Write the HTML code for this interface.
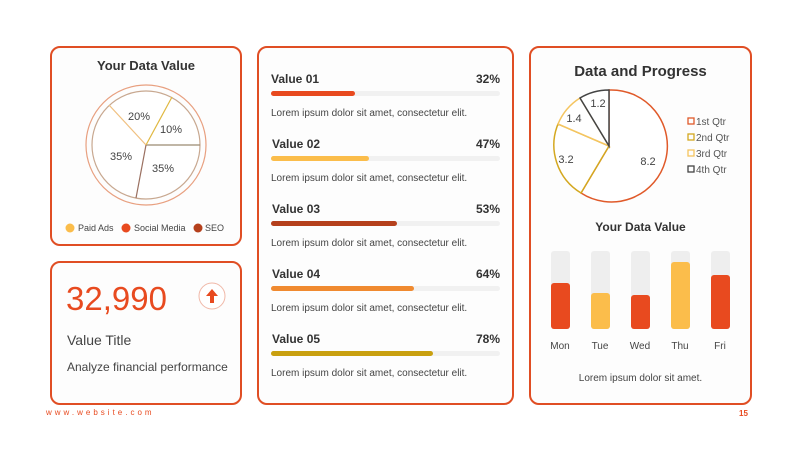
<!DOCTYPE html>
<html><head><style>
body{margin:0;width:800px;height:450px;background:#fff;font-family:"Liberation Sans",sans-serif;position:relative;overflow:hidden}
.c{position:absolute;border:2px solid #e04e24;border-radius:10px;box-sizing:border-box;background:#fdfdfd}
.t{position:absolute;white-space:nowrap;color:#333}
.track{position:absolute;height:5px;background:#f1f1f1;border-radius:3px}
.fill{position:absolute;height:5px;border-radius:3px}
.bt{position:absolute;width:19px;background:#eeeeee;border-radius:3px;top:251px;height:78px}
.bf{position:absolute;width:19px;border-radius:3px;bottom:121px}
</style></head><body>
<div class="c" style="left:50px;top:46px;width:192px;height:200px"></div>
<div class="c" style="left:50px;top:261px;width:192px;height:144px"></div>
<div class="c" style="left:257px;top:46px;width:257px;height:359px"></div>
<div class="c" style="left:529px;top:46px;width:223px;height:359px"></div>

<div class="t" style="left:50px;width:192px;text-align:center;top:58px;font-size:13px;font-weight:bold">Your Data Value</div>
<svg style="position:absolute;left:0;top:0" width="800" height="450">
<circle cx="146" cy="145" r="60" fill="none" stroke="#e8a080" stroke-width="1.2"/>
<circle cx="146" cy="145" r="54" fill="#fff" stroke="#c8a890" stroke-width="1.2"/>
<path d="M146 145 L200 145" stroke="#9a8a70" stroke-width="1.2"/>
<path d="M146 145 L172 97" stroke="#e0b840" stroke-width="1.2"/>
<path d="M146 145 L109 105" stroke="#f0c080" stroke-width="1.2"/>
<path d="M146 145 L136 198" stroke="#9a7060" stroke-width="1.2"/>
<g font-size="11" fill="#444" text-anchor="middle">
<text x="139" y="120">20%</text><text x="171" y="133">10%</text>
<text x="121" y="160">35%</text><text x="163" y="172">35%</text></g>
<g font-size="9" fill="#444"><circle cx="70" cy="228" r="4.5" fill="#fbbd4b"/><text x="78" y="231">Paid Ads</text>
<circle cx="126" cy="228" r="4.5" fill="#e84a1f"/><text x="134" y="231">Social Media</text>
<circle cx="198" cy="228" r="4.5" fill="#b5401c"/><text x="205" y="231">SEO</text></g>

<path d="M609 90 A56 56 0 1 1 581 193 L609 146 Z" fill="#fff" stroke="#e05a2a" stroke-width="1.5"/>
<path d="M581 193 A56 56 0 0 1 558 124 L609 146 Z" fill="#fff" stroke="#d4a820" stroke-width="1.5"/>
<path d="M558 124 A56 56 0 0 1 580 98 L609 146 Z" fill="#fff" stroke="#f5c560" stroke-width="1.5"/>
<path d="M580 98 A56 56 0 0 1 609 90 L609 146 Z" fill="#fff" stroke="#444" stroke-width="1.5"/>
<g font-size="11" fill="#444" text-anchor="middle"><text x="648" y="165">8.2</text><text x="566" y="163">3.2</text><text x="574" y="122">1.4</text><text x="598" y="107">1.2</text></g>
<g font-size="10" fill="#555">
<rect x="688" y="118" width="6" height="6" fill="none" stroke="#e05a2a" stroke-width="1.3"/><text x="696" y="125">1st Qtr</text>
<rect x="688" y="134" width="6" height="6" fill="none" stroke="#d4a820" stroke-width="1.3"/><text x="696" y="141">2nd Qtr</text>
<rect x="688" y="150" width="6" height="6" fill="none" stroke="#f5c560" stroke-width="1.3"/><text x="696" y="157">3rd Qtr</text>
<rect x="688" y="166" width="6" height="6" fill="none" stroke="#444" stroke-width="1.3"/><text x="696" y="173">4th Qtr</text></g>
<circle cx="212" cy="296" r="13" fill="#fff" stroke="#f0b8a8" stroke-width="1"/>
<path d="M212 289 L206 296 L210 296 L210 303 L214 303 L214 296 L218 296 Z" fill="#e84a1f"/>
</svg>

<div class="t" style="left:66px;top:280px;font-size:33px;color:#e84a1f">32,990</div>
<div class="t" style="left:67px;top:332px;font-size:14px;color:#444">Value Title</div>
<div class="t" style="left:67px;top:360px;font-size:12px;color:#444">Analyze financial performance</div>
<div class="t" style="left:46px;top:408px;font-size:8px;color:#e84a1f;letter-spacing:3px">www.website.com</div>
<div class="t" style="left:739px;top:409px;font-size:8px;color:#e84a1f;font-weight:bold">15</div>

<div class="t" style="left:271px;top:72px;font-size:12px;font-weight:bold">Value 01</div><div class="t" style="left:476px;top:72px;font-size:12px;font-weight:bold">32%</div>
<div class="track" style="left:271px;top:91px;width:229px"></div><div class="fill" style="left:271px;top:91px;width:84px;background:#e84a1f"></div>
<div class="t" style="left:271px;top:108px;font-size:10px;color:#444">Lorem ipsum dolor sit amet, consectetur elit.</div>

<div class="t" style="left:272px;top:137px;font-size:12px;font-weight:bold">Value 02</div><div class="t" style="left:476px;top:137px;font-size:12px;font-weight:bold">47%</div>
<div class="track" style="left:271px;top:156px;width:229px"></div><div class="fill" style="left:271px;top:156px;width:98px;background:#fbbd4b"></div>
<div class="t" style="left:271px;top:173px;font-size:10px;color:#444">Lorem ipsum dolor sit amet, consectetur elit.</div>

<div class="t" style="left:272px;top:202px;font-size:12px;font-weight:bold">Value 03</div><div class="t" style="left:476px;top:202px;font-size:12px;font-weight:bold">53%</div>
<div class="track" style="left:271px;top:221px;width:229px"></div><div class="fill" style="left:271px;top:221px;width:126px;background:#b5401c"></div>
<div class="t" style="left:271px;top:238px;font-size:10px;color:#444">Lorem ipsum dolor sit amet, consectetur elit.</div>

<div class="t" style="left:272px;top:267px;font-size:12px;font-weight:bold">Value 04</div><div class="t" style="left:476px;top:267px;font-size:12px;font-weight:bold">64%</div>
<div class="track" style="left:271px;top:286px;width:229px"></div><div class="fill" style="left:271px;top:286px;width:143px;background:#f08a30"></div>
<div class="t" style="left:271px;top:303px;font-size:10px;color:#444">Lorem ipsum dolor sit amet, consectetur elit.</div>

<div class="t" style="left:272px;top:332px;font-size:12px;font-weight:bold">Value 05</div><div class="t" style="left:476px;top:332px;font-size:12px;font-weight:bold">78%</div>
<div class="track" style="left:271px;top:351px;width:229px"></div><div class="fill" style="left:271px;top:351px;width:162px;background:#c9a010"></div>
<div class="t" style="left:271px;top:368px;font-size:10px;color:#444">Lorem ipsum dolor sit amet, consectetur elit.</div>

<div class="t" style="left:529px;width:223px;text-align:center;top:63px;font-size:15px;font-weight:bold">Data and Progress</div>
<div class="t" style="left:529px;width:223px;text-align:center;top:220px;font-size:12px;font-weight:bold">Your Data Value</div>
<div class="bt" style="left:551px"></div><div class="bf" style="left:551px;height:46px;background:#e84a1f"></div>
<div class="bt" style="left:591px"></div><div class="bf" style="left:591px;height:36px;background:#fbbd4b"></div>
<div class="bt" style="left:631px"></div><div class="bf" style="left:631px;height:34px;background:#e84a1f"></div>
<div class="bt" style="left:671px"></div><div class="bf" style="left:671px;height:67px;background:#fbbd4b"></div>
<div class="bt" style="left:711px"></div><div class="bf" style="left:711px;height:54px;background:#e84a1f"></div>
<div class="t" style="left:540px;width:40px;text-align:center;top:341px;font-size:10px;color:#444">Mon</div>
<div class="t" style="left:580px;width:40px;text-align:center;top:341px;font-size:10px;color:#444">Tue</div>
<div class="t" style="left:620px;width:40px;text-align:center;top:341px;font-size:10px;color:#444">Wed</div>
<div class="t" style="left:660px;width:40px;text-align:center;top:341px;font-size:10px;color:#444">Thu</div>
<div class="t" style="left:700px;width:40px;text-align:center;top:341px;font-size:10px;color:#444">Fri</div>
<div class="t" style="left:529px;width:223px;text-align:center;top:373px;font-size:10px;color:#444">Lorem ipsum dolor sit amet.</div>
</body></html>
